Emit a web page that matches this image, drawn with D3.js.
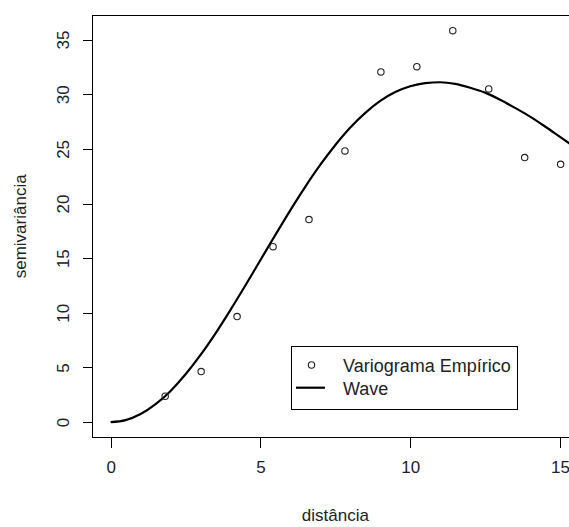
<!DOCTYPE html>
<html>
<head>
<meta charset="utf-8">
<script src="https://cdn.jsdelivr.net/npm/d3@7"></script>
<style>
  html, body { margin: 0; padding: 0; background: #fff; }
  text { font-family: "Liberation Sans", Arial, sans-serif; }
</style>
</head>
<body>
<svg id="chart" width="569" height="527"></svg>
<script>
// Empirical variogram points (distance, semivariance)
const empDist = [1.82, 3.02, 4.22, 5.42, 6.62, 7.82, 9.02, 10.22, 11.42, 12.62, 13.82, 15.02];
const empGamma = [2.36, 4.62, 9.65, 16.05, 18.53, 24.81, 32.04, 32.52, 35.82, 30.49, 24.20, 23.59];

// Fitted "Wave" model curve
const waveDist = [0, 0.5, 1, 1.5, 2, 2.5, 3, 3.5, 4, 4.5, 5, 5.5, 6, 6.5, 7, 7.5, 8, 8.5, 9, 9.5, 10, 10.5, 11, 11.5, 12, 12.5, 13, 13.5, 14, 14.5, 15, 15.5];
const waveGamma = [0, 0.18, 0.73, 1.63, 2.85, 4.37, 6.14, 8.12, 10.27, 12.52, 14.83, 17.14, 19.40, 21.55, 23.55, 25.36, 26.96, 28.30, 29.39, 30.20, 30.73, 31.02, 31.10, 30.95, 30.60, 30.15, 29.50, 28.75, 27.95, 27.05, 26.10, 25.15];

const xTicks = [0, 5, 10, 15];
const yTicks = [0, 5, 10, 15, 20, 25, 30, 35];
const legendLabels = ["Variograma Empírico", "Wave"];
const xTitle = "distância";
const yTitle = "semivariância";

const svg = d3.select("#chart");
const box = { left: 92.7, right: 578, top: 15, bottom: 437.7 };

const xMin = 0, xMax = 15;
const yMin = 0, yMax = d3.max(empGamma);
const xe = (xMax - xMin) * 0.04, ye = (yMax - yMin) * 0.04;

const x = d3.scaleLinear().domain([xMin - xe, xMax + xe]).range([box.left, box.right]);
const y = d3.scaleLinear().domain([yMin - ye, yMax + ye]).range([box.bottom, box.top]);

const ink = "#000";
const txt = "#222";
const fs = 17;

svg.append("defs").append("clipPath").attr("id", "clip")
  .append("rect").attr("x", box.left).attr("y", box.top)
  .attr("width", box.right - box.left).attr("height", box.bottom - box.top);

// Axes
const xAxis = svg.append("g")
  .attr("transform", `translate(0,${box.bottom})`)
  .call(d3.axisBottom(x).tickValues(xTicks).tickSize(10).tickPadding(13).tickFormat(d3.format("d")));
xAxis.select(".domain").remove();
xAxis.selectAll("line").attr("stroke", ink).attr("shape-rendering", "crispEdges");
xAxis.selectAll("text").attr("font-size", fs).attr("fill", txt)
  .attr("font-family", "Liberation Sans, Arial, sans-serif");

const yAxis = svg.append("g")
  .attr("transform", `translate(${box.left},0)`)
  .call(d3.axisLeft(y).tickValues(yTicks).tickSize(10).tickFormat(d3.format("d")));
yAxis.select(".domain").remove();
yAxis.selectAll("line").attr("stroke", ink).attr("shape-rendering", "crispEdges");
yAxis.selectAll("text").remove();
yAxis.selectAll(".tick").append("text")
  .attr("transform", "translate(-30,0) rotate(-90)")
  .attr("text-anchor", "middle")
  .attr("dy", "0.35em")
  .attr("font-size", fs)
  .attr("fill", txt)
  .text(d => d);

// Box
svg.append("rect")
  .attr("x", box.left).attr("y", box.top)
  .attr("width", box.right - box.left).attr("height", box.bottom - box.top)
  .attr("fill", "none").attr("stroke", ink).attr("stroke-width", 1)
  .attr("shape-rendering", "crispEdges");

// Axis titles
svg.append("text")
  .attr("x", (box.left + box.right) / 2).attr("y", 521)
  .attr("text-anchor", "middle").attr("font-size", fs).attr("fill", txt)
  .text(xTitle);
svg.append("text")
  .attr("transform", `translate(26,${(box.top + box.bottom) / 2}) rotate(-90)`)
  .attr("text-anchor", "middle").attr("font-size", fs).attr("fill", txt)
  .text(yTitle);

const plot = svg.append("g").attr("clip-path", "url(#clip)");

// Wave curve
const line = d3.line().x((d, i) => x(waveDist[i])).y(d => y(d)).curve(d3.curveMonotoneX);
plot.append("path")
  .datum(waveGamma)
  .attr("d", line)
  .attr("fill", "none").attr("stroke", ink).attr("stroke-width", 2.2);

// Empirical points
plot.selectAll("circle.pt")
  .data(empGamma)
  .join("circle")
  .attr("class", "pt")
  .attr("cx", (d, i) => x(empDist[i]))
  .attr("cy", d => y(d))
  .attr("r", 3.2)
  .attr("fill", "none").attr("stroke", "#222").attr("stroke-width", 1.1);

// Legend
const lg = svg.append("g");
lg.append("rect")
  .attr("x", 291).attr("y", 346).attr("width", 226).attr("height", 63)
  .attr("fill", "#fff").attr("stroke", ink).attr("stroke-width", 1)
  .attr("shape-rendering", "crispEdges");
lg.append("circle")
  .attr("cx", 311.5).attr("cy", 365).attr("r", 3.2)
  .attr("fill", "none").attr("stroke", "#222").attr("stroke-width", 1.1);
lg.append("line")
  .attr("x1", 296).attr("x2", 325).attr("y1", 387.7).attr("y2", 387.7)
  .attr("stroke", ink).attr("stroke-width", 2.2);
lg.selectAll("text.lt")
  .data(legendLabels)
  .join("text")
  .attr("class", "lt")
  .attr("x", 343)
  .attr("y", (d, i) => 366 + i * 23)
  .attr("dy", "0.35em")
  .attr("font-size", 18)
  .attr("fill", txt)
  .text(d => d);
</script>
</body>
</html>
